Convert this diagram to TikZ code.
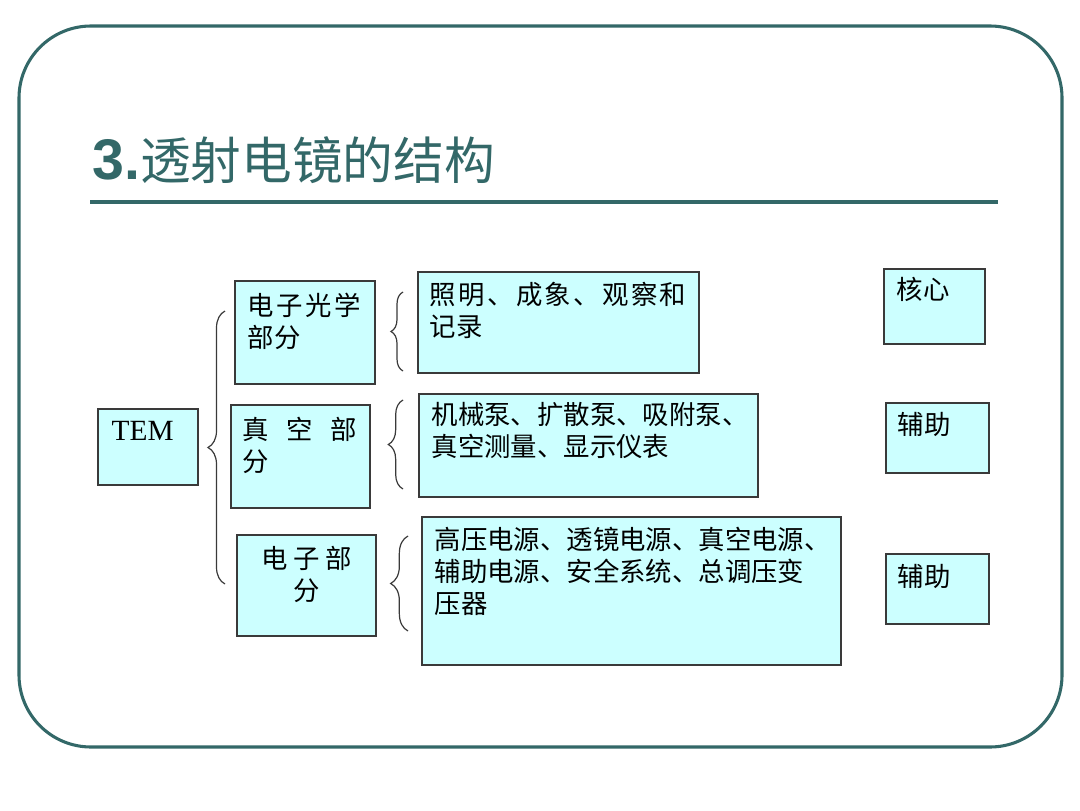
\documentclass[tikz,border=0pt]{standalone}
\usepackage{fontspec}
\setmainfont{Liberation Serif}
\newfontfamily\cjk{Noto Sans CJK SC}
\newfontfamily\cjkls[LetterSpace=9]{Noto Sans CJK SC}
\newfontfamily\arialf{Liberation Sans}
\usetikzlibrary{decorations.pathreplacing}
\definecolor{frameteal}{HTML}{336868}
\definecolor{boxfill}{HTML}{CCFFFF}
\definecolor{boxline}{HTML}{3A3A3A}
\begin{document}
\begin{tikzpicture}[x=0.75pt,y=-0.75pt,
  box/.style={draw=boxline,fill=boxfill,line width=0.9pt,inner sep=0pt},
  txt/.style={inner sep=0pt,anchor=north west,align=left,font={\cjk\fontsize{19.8}{24}\selectfont}},
  brc/.style={draw=boxline,line width=0.9pt,decorate,decoration={brace,amplitude=#1}}]
\useasboundingbox (0,0) rectangle (1080,810);
\fill[white] (0,0) rectangle (1080,810);
\draw[frameteal,line width=2.3pt,rounded corners=54pt] (19,26) rectangle (1062,747);
% title
\node[anchor=base west,inner sep=0pt,text=frameteal,font={\cjk\fontsize{38}{40}\selectfont}] (title) at (92,179) {{\arialf\bfseries\fontsize{43}{45}\selectfont 3.}透射电镜的结构};
\fill[frameteal] (90,200) rectangle (998,204);
% boxes
\node[box,minimum width=75pt,minimum height=57pt] (tem) at (148,447) {};
\node[box,minimum width=105pt,minimum height=77.25pt] (eo) at (305,332.5) {};
\node[box,minimum width=104.25pt,minimum height=77.25pt] (vac) at (300.5,456.5) {};
\node[box,minimum width=104.25pt,minimum height=75.75pt] (el) at (306.5,585.5) {};
\node[box,minimum width=210.75pt,minimum height=75.75pt] (d1) at (558.5,322.5) {};
\node[box,minimum width=254.25pt,minimum height=77.25pt] (d2) at (588.5,445.5) {};
\node[box,minimum width=314.25pt,minimum height=111pt] (d3) at (631.5,591) {};
\node[box,minimum width=75.75pt,minimum height=56.25pt] (r1) at (934.5,306.5) {};
\node[box,minimum width=77.25pt,minimum height=52.5pt] (r2) at (937.5,438) {};
\node[box,minimum width=77.25pt,minimum height=52.5pt] (r3) at (937.5,589) {};
% texts
\node[inner sep=0pt,anchor=north west,font={\fontsize{22}{26}\selectfont}] (temt) at ([shift={(14,13)}]tem.north west) {TEM};
\node[txt] (eot) at ([shift={(13,12)}]eo.north west) {电\hspace{2pt}子\hspace{2pt}光\hspace{2pt}学\\部分};
\node[txt] (vact) at ([shift={(12,12)}]vac.north west) {真\hspace{13pt}空\hspace{13pt}部\\分};
\node[txt,anchor=north,align=center] (elt) at ([shift={(0,12)}]el.north) {电\hspace{4pt}子\hspace{4pt}部\\分};
\node[txt] (d1t) at ([shift={(12,11)}]d1.north west) {{\cjkls 照明、成象、观察和}\\记录};
\node[txt] (d2t) at ([shift={(13,9)}]d2.north west) {机械泵、扩散泵、吸附泵、\\真空测量、显示仪表};
\node[txt] (d3t) at ([shift={(13,10)}]d3.north west) {高压电源、透镜电源、真空电源、\\辅助电源、安全系统、总调压变\\压器};
\node[txt] (r1t) at ([shift={(13,9)}]r1.north west) {核心};
\node[txt] (r2t) at ([shift={(12,10)}]r2.north west) {辅助};
\node[txt] (r3t) at ([shift={(12,11)}]r3.north west) {辅助};
% braces
\coordinate (B0a) at (225,584); \coordinate (B0b) at (225,311);
\coordinate (B1a) at (403,371); \coordinate (B1b) at (403,292);
\coordinate (B2a) at (403,489); \coordinate (B2b) at (403,400);
\coordinate (B3a) at (408,631); \coordinate (B3b) at (408,536);
\draw[brc=12.75pt] (B0a) -- (B0b);
\draw[brc=9pt] (B1a) -- (B1b);
\draw[brc=11pt] (B2a) -- (B2b);
\draw[brc=13pt] (B3a) -- (B3b);
\end{tikzpicture}
\end{document}
